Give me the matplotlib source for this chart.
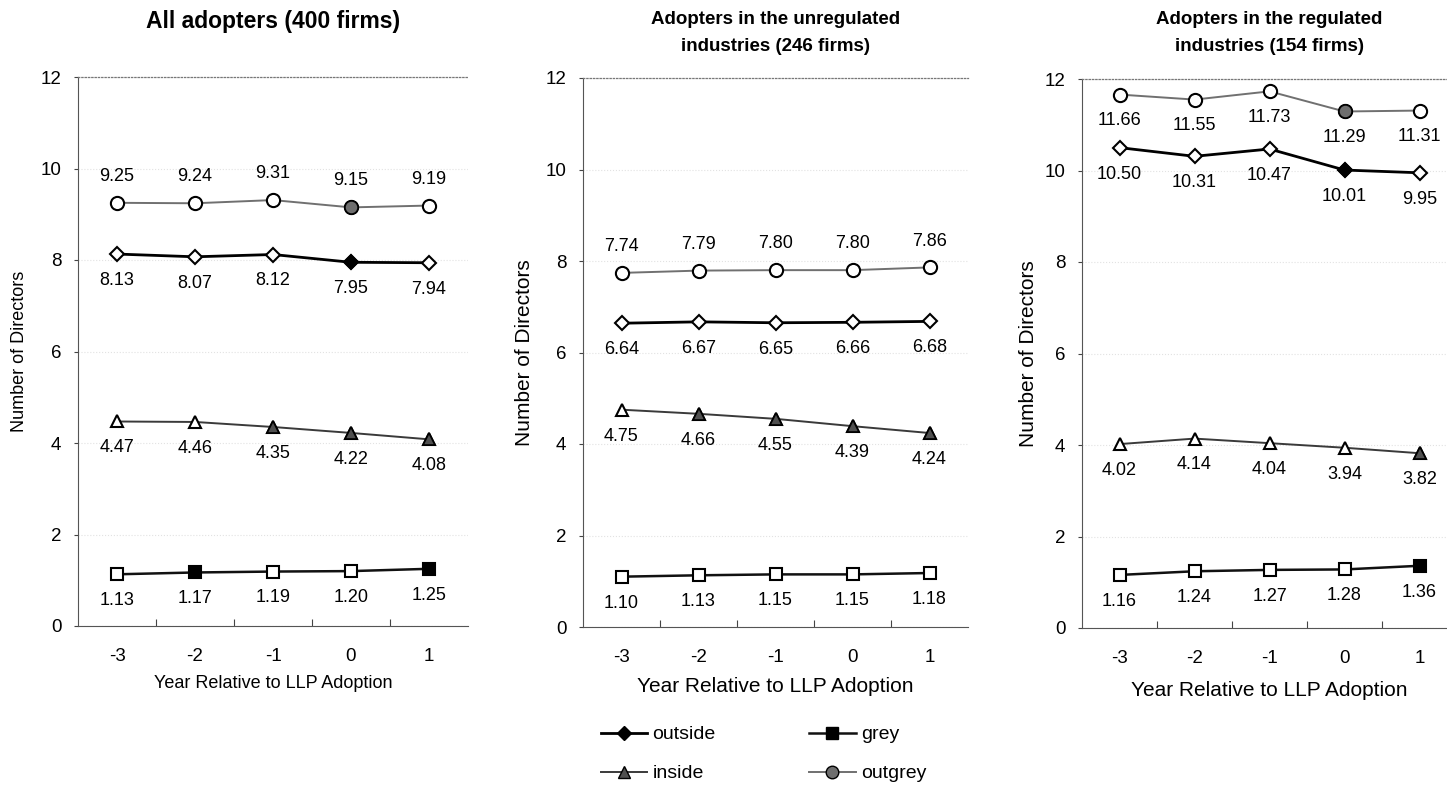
import numpy as np
import matplotlib
matplotlib.use('Agg')
from matplotlib import pyplot as plt
from matplotlib.lines import Line2D

plt.rcParams['font.family'] = ['Liberation Sans', 'DejaVu Sans']

years = [-3, -2, -1, 0, 1]
year_labels = ['-3', '-2', '-1', '0', '1']

title_lines = [['All adopters (400 firms)'],
               ['Adopters in the unregulated', 'industries (246 firms)'],
               ['Adopters in the regulated', 'industries (154 firms)']]

# board composition by group, one list per panel
outside = [[8.13, 8.07, 8.12, 7.95, 7.94],
           [6.64, 6.67, 6.65, 6.66, 6.68],
           [10.50, 10.31, 10.47, 10.01, 9.95]]
inside = [[4.47, 4.46, 4.35, 4.22, 4.08],
          [4.75, 4.66, 4.55, 4.39, 4.24],
          [4.02, 4.14, 4.04, 3.94, 3.82]]
grey = [[1.13, 1.17, 1.19, 1.20, 1.25],
        [1.10, 1.13, 1.15, 1.15, 1.18],
        [1.16, 1.24, 1.27, 1.28, 1.36]]
outgrey = [[9.25, 9.24, 9.31, 9.15, 9.19],
           [7.74, 7.79, 7.80, 7.80, 7.86],
           [11.66, 11.55, 11.73, 11.29, 11.31]]

# 1 = significant change vs. base year (solid marker)
outside_sig = [[0, 0, 0, 1, 0], [0, 0, 0, 0, 0], [0, 0, 0, 1, 0]]
inside_sig = [[0, 0, 1, 1, 1], [0, 1, 1, 1, 1], [0, 0, 0, 0, 1]]
grey_sig = [[0, 1, 0, 0, 1], [0, 0, 0, 0, 0], [0, 0, 0, 0, 1]]
outgrey_sig = [[0, 0, 0, 1, 0], [0, 0, 0, 0, 0], [0, 0, 0, 1, 0]]

series = [
    # name, values, sig, line colour, lw, marker, size, fill colour
    ('outside', outside, outside_sig, '#000000', 2.0, 'D', 7.5, '#000000'),
    ('grey', grey, grey_sig, '#111111', 1.8, 's', 9, '#000000'),
    ('inside', inside, inside_sig, '#3a3a3a', 1.4, '^', 9, '#505050'),
    ('outgrey', outgrey, outgrey_sig, '#707070', 1.4, 'o', 9.5, '#6e6e6e'),
]

# label above (+1) or below (-1) the point, per panel
label_side = {
    'outside': [-1, -1, -1],
    'grey': [-1, -1, -1],
    'inside': [-1, -1, -1],
    'outgrey': [1, 1, -1],
}

W, H = 1447, 787
fig = plt.figure(figsize=(W / 100, H / 100), dpi=100)

# axes boxes in pixels: left, bottom(from top), width
boxes = [(78, 626, 390), (583, 627, 385), (1082, 628, 375)]
label_fs = [13, 15, 15]
ylab_x = [20, 525, 1028]
xlab_y = [683, 687, 690]
title_fs = [16.5, 13.5, 13.5]
title_base = [[28], [24, 51], [24, 51]]

x = np.arange(len(years)) + 0.5

for p in range(3):
    l, b, w = boxes[p]
    ax = fig.add_axes([l / W, (H - b) / H, w / W, 549 / H])
    ax.set_xlim(0, 5)
    ax.set_ylim(0, 12)

    for name, vals, sig, col, lw, mk, ms, fc in series:
        v = np.array(vals[p])
        s = np.array(sig[p], dtype=bool)
        ax.plot(x, v, color=col, lw=lw, marker=mk, ms=ms, mfc='white',
                mec='black', mew=1.5, zorder=3)
        if s.any():
            ax.plot(x[s], v[s], ls='none', marker=mk, ms=ms, mfc=fc,
                    mec='black', mew=1.2, zorder=4)
        side = label_side[name][p]
        for xi, vi in zip(x, v):
            ax.annotate(f'{vi:.2f}', (xi, vi), xytext=(0, 19 * side),
                        textcoords='offset points', ha='center', va='center',
                        fontsize=13, zorder=5)

    ax.set_yticks(range(0, 13, 2))
    ax.set_xticks([1, 2, 3, 4])
    ax.set_xticklabels([])
    ax.set_xticks(x, minor=True)
    ax.set_xticklabels(year_labels, minor=True)
    ax.tick_params(axis='x', which='major', direction='in', length=5,
                   color='#444444')
    ax.tick_params(axis='x', which='minor', length=0, pad=16, labelsize=13.5)
    ax.tick_params(axis='y', direction='out', length=3, pad=9, labelsize=13.5,
                   color='#444444')
    ax.grid(axis='y', ls=':', lw=0.8, color='#e2e2e2')
    ax.set_axisbelow(True)

    ax.spines['right'].set_visible(False)
    ax.spines['top'].set_linestyle(':')
    ax.spines['top'].set_color('#777777')
    ax.spines['top'].set_linewidth(0.9)
    ax.spines['left'].set_color('#555555')
    ax.spines['bottom'].set_color('#555555')

    ax.set_ylabel('Number of Directors', fontsize=label_fs[p], va='center')
    ax.yaxis.set_label_coords((ylab_x[p] - l) / w, 0.5)
    ax.set_xlabel('Year Relative to LLP Adoption', fontsize=label_fs[p],
                  va='center')
    ax.xaxis.set_label_coords(0.5, (b - xlab_y[p]) / 549)

    cx = (l + min(l + w, W)) / 2 if p < 2 else l + w / 2
    for line, yb in zip(title_lines[p], title_base[p]):
        fig.text(cx / W, (H - yb) / H, line, ha='center',
                 va='baseline', fontsize=title_fs[p], fontweight='bold')

handles = []
for name, vals, sig, col, lw, mk, ms, fc in [series[0], series[2], series[1], series[3]]:
    handles.append(Line2D([], [], color=col, lw=lw, marker=mk, ms=ms * 0.95,
                          mfc=fc, mec='black', label=name))
fig.legend(handles=handles, loc='upper left', ncol=2, frameon=False,
           bbox_to_anchor=(591 / W, (H - 716) / H), borderpad=0,
           fontsize=14, handlelength=2.4, handletextpad=0.26,
           columnspacing=4.8, labelspacing=1.1)

fig.savefig('out.png', dpi=100)
